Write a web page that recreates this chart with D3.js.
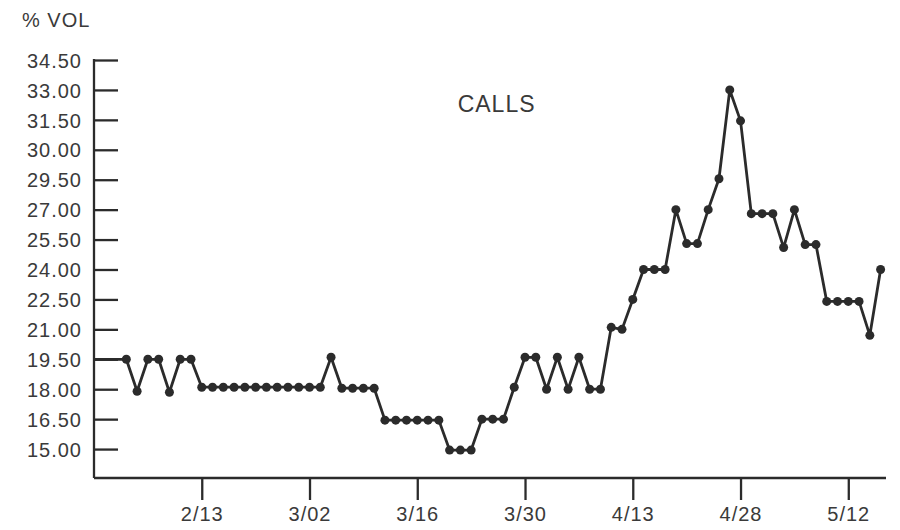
<!DOCTYPE html>
<html>
<head>
<meta charset="utf-8">
<script src="https://cdn.jsdelivr.net/npm/d3@7"></script>
<style>
  html, body { margin: 0; padding: 0; background: #ffffff; }
  svg { display: block; }
  text { font-family: "Liberation Sans", Arial, Helvetica, sans-serif; fill: #3a3a3a; letter-spacing: 1px; }
</style>
</head>
<body>
<svg id="chart" width="900" height="530"></svg>
<script>
// ---- data ----
const seriesName = "CALLS";
const yAxisTitle = "% VOL";
// trading-day index 0..70, % volatility of calls
const callVol = [
  19.5, 17.9, 19.5, 19.5, 17.85, 19.5, 19.5,
  18.1, 18.1, 18.1, 18.1, 18.1, 18.1, 18.1, 18.1, 18.1, 18.1, 18.1, 18.1,
  19.6,
  18.05, 18.05, 18.05, 18.05,
  16.45, 16.45, 16.45, 16.45, 16.45, 16.45,
  14.95, 14.95, 14.95,
  16.5, 16.5, 16.5,
  18.1, 19.6, 19.6, 18.0, 19.6, 18.0, 19.6, 18.0, 18.0,
  21.1, 21.0, 22.5, 24.0, 24.0, 24.0, 27.0, 25.3, 25.3, 27.0, 28.55,
  33.0, 31.45, 26.8, 26.8, 26.8, 25.1, 27.0, 25.25, 25.25,
  22.4, 22.4, 22.4, 22.4, 20.7, 24.0
];
// y-axis tick values and the labels printed on the original
const yTickValues = [15.0, 16.5, 18.0, 19.5, 21.0, 22.5, 24.0, 25.5, 27.0, 28.5, 30.0, 31.5, 33.0, 34.5];
const yTickLabels = ["15.00", "16.50", "18.00", "19.50", "21.00", "22.50", "24.00", "25.50", "27.00", "29.50", "30.00", "31.50", "33.00", "34.50"];
// x-axis date ticks (trading-day index where each date falls)
const xTickIndex = [7, 17, 27, 37, 47, 57, 67];
const xTickLabels = ["2/13", "3/02", "3/16", "3/30", "4/13", "4/28", "5/12"];

// ---- layout ----
const ink = "#2b2b2b";
const svg = d3.select("#chart");
const x = d3.scaleLinear().domain([-3, 70.5]).range([94, 886]);
const y = d3.scaleLinear().domain([13.55, 34.5]).range([478, 60]);

// y axis (ticks pointing inward, labels on the left)
const yAxis = d3.axisRight(y)
  .tickValues(yTickValues)
  .tickFormat((d, i) => yTickLabels[i])
  .tickSize(24)
  .tickSizeOuter(0);
const gy = svg.append("g").attr("transform", `translate(${x(-3)},0)`).call(yAxis);
gy.select(".domain").remove();
gy.selectAll(".tick line").attr("stroke", ink).attr("stroke-width", 2.3);
gy.selectAll(".tick text")
  .attr("x", -12).attr("dy", "0.36em")
  .attr("text-anchor", "end")
  .style("font-size", "20px")
  .style("fill", "#3a3a3a");
// vertical axis line
svg.append("line")
  .attr("x1", x(-3)).attr("x2", x(-3))
  .attr("y1", y(34.5) - 1).attr("y2", y.range()[0])
  .attr("stroke", ink).attr("stroke-width", 2.3);

// x axis
const xAxis = d3.axisBottom(x)
  .tickValues(xTickIndex)
  .tickFormat((d, i) => xTickLabels[i])
  .tickSize(22)
  .tickSizeOuter(0);
const gx = svg.append("g").attr("transform", `translate(0,${y.range()[0]})`).call(xAxis);
gx.select(".domain").attr("stroke", ink).attr("stroke-width", 2.3)
  .attr("d", `M${x(-3)},0H${x.range()[1]}`);
gx.selectAll(".tick line").attr("stroke", ink).attr("stroke-width", 2.3);
gx.selectAll(".tick text")
  .attr("y", 29).attr("dy", "0.71em")
  .style("font-size", "20px")
  .style("fill", "#3a3a3a");

// axis title
svg.append("text")
  .attr("x", x(-3) - 72).attr("y", 27)
  .style("font-size", "20px")
  .text(yAxisTitle);

// series label
svg.append("text")
  .attr("x", x(30.75)).attr("y", y(31.9))
  .style("font-size", "23px")
  .text(seriesName);

// line (starts at the y axis at the first value, as in the original)
const pts = callVol.map((v, i) => [i, v]);
const linePts = [[x.domain()[0], callVol[0]]].concat(pts);
const line = d3.line().x(d => x(d[0])).y(d => y(d[1]));
svg.append("path")
  .datum(linePts)
  .attr("d", line)
  .attr("fill", "none")
  .attr("stroke", ink)
  .attr("stroke-width", 2.8)
  .attr("stroke-linejoin", "round");

svg.append("g").selectAll("circle")
  .data(pts)
  .join("circle")
  .attr("cx", d => x(d[0]))
  .attr("cy", d => y(d[1]))
  .attr("r", 4.5)
  .attr("fill", ink);
</script>
</body>
</html>
